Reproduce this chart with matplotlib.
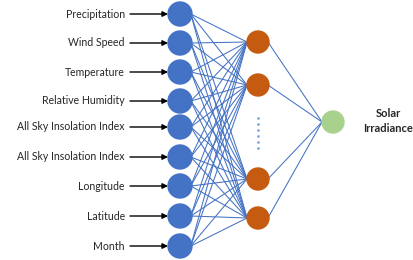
import matplotlib
matplotlib.use("Agg")
import matplotlib.pyplot as plt
from matplotlib.patches import Circle

# ---- data ----
input_labels = ["Precipitation", "Wind Speed", "Temperature", "Relative Humidity",
                "All Sky Insolation Index", "All Sky Insolation Index",
                "Longitude", "Latitude", "Month"]
n_hidden_shown = 4
output_label = "Solar\nIrradiance"

# ---- layout (pixel coordinates) ----
W, H = 414, 260
in_x, hid_x, out_x = 180, 258, 333
in_y = [14, 43, 72, 101, 127, 157, 186, 216, 246]
hid_y = [42, 85, 179, 218]
out_y = 122
r_in, r_hid, r_out = 12, 11, 11

blue = "#4472c4"
orange = "#c55a11"
green = "#a9d18e"

fig = plt.figure(figsize=(W/100, H/100), dpi=100)
ax = fig.add_axes([0, 0, 1, 1])
ax.set_xlim(0, W)
ax.set_ylim(H, 0)
ax.axis("off")

# connections input -> hidden
for yi in in_y:
    for yh in hid_y[:n_hidden_shown]:
        ax.plot([in_x + r_in*0.9, hid_x - r_hid], [yi, yh], color=blue, lw=0.75, zorder=1)
# hidden -> output
for yh in hid_y[:n_hidden_shown]:
    ax.plot([hid_x + r_hid*0.9, out_x - r_out], [yh, out_y], color=blue, lw=0.75, zorder=1)

# input nodes, arrows, labels
for lab, yi in zip(input_labels, in_y):
    ax.add_patch(Circle((in_x, yi), r_in, color=blue, zorder=3))
    ax.annotate("", xy=(in_x - r_in, yi), xytext=(130, yi),
                arrowprops=dict(arrowstyle="-|>", color="black", lw=1.0,
                                mutation_scale=8, shrinkA=0, shrinkB=0), zorder=2)
    ax.text(125, yi, lab, ha="right", va="center", fontsize=7.6,
            family="Lato", color="#262626")

# hidden nodes
for yh in hid_y[:n_hidden_shown]:
    ax.add_patch(Circle((hid_x, yh), r_hid, color=orange, zorder=3))

# ellipsis dots
for k in range(6):
    ax.plot(hid_x, 118 + k*6, marker="o", ms=0.9, color="#7f9fd8", zorder=3)

# output node
ax.add_patch(Circle((out_x, out_y), r_out, color=green, zorder=3))
ax.text(388, out_y - 1, output_label, ha="center", va="center", fontsize=8,
        family="Lato", fontweight="bold", color="#262626", linespacing=1.45)

fig.savefig("out.png", dpi=100)
